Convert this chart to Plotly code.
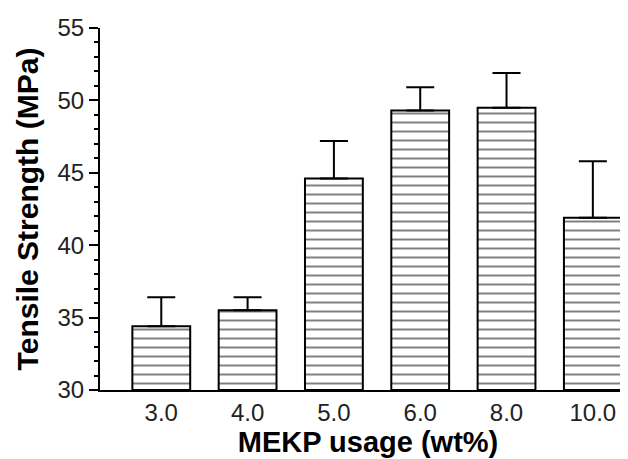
import plotly.graph_objects as go

categories = ["3.0", "4.0", "5.0", "6.0", "8.0", "10.0"]
tensile_mean = [34.4, 35.5, 44.6, 49.3, 49.5, 41.9]
tensile_upper = [36.4, 36.4, 47.2, 50.9, 51.9, 45.8]
y_ticks = [30, 35, 40, 45, 50, 55]

err_plus = [u - m for u, m in zip(tensile_upper, tensile_mean)]

fig = go.Figure()
fig.add_trace(go.Bar(
    x=categories,
    y=[m - 30 for m in tensile_mean],
    base=30,
    width=0.67,
    marker=dict(
        color="white",
        line=dict(color="black", width=2),
        pattern=dict(shape="-", size=9, solidity=0.22, fgcolor="black",
                     bgcolor="white", fillmode="overlay"),
    ),
    error_y=dict(type="data", symmetric=False, array=err_plus,
                 arrayminus=[0] * len(err_plus), thickness=2, width=14,
                 color="black"),
    showlegend=False,
))

fig.update_layout(
    width=628, height=459,
    margin=dict(l=92, r=0, t=20, b=77),
    paper_bgcolor="white", plot_bgcolor="white",
    font=dict(family="Liberation Sans, Arial, sans-serif", color="black"),
)
fig.update_xaxes(
    type="category",
    range=[-0.71, 5.5],
    showline=True, linecolor="black", linewidth=2,
    ticks="", showgrid=False, zeroline=False,
    tickfont=dict(size=24, color="#222"),
    title=dict(text="<b>MEKP usage (wt%)</b>", font=dict(size=29), standoff=5),
)
fig.update_yaxes(
    range=[30, 55],
    tickvals=y_ticks,
    showline=True, linecolor="black", linewidth=2,
    ticks="outside", ticklen=9, tickwidth=2, tickcolor="black",
    minor=dict(dtick=1, ticks="outside", ticklen=4, tickwidth=2, tickcolor="black"),
    showgrid=False, zeroline=False,
    tickfont=dict(size=24, color="#222"),
    title=dict(text="<b>Tensile Strength (MPa)</b>", font=dict(size=30), standoff=10),
)

fig.write_html("out.html")
